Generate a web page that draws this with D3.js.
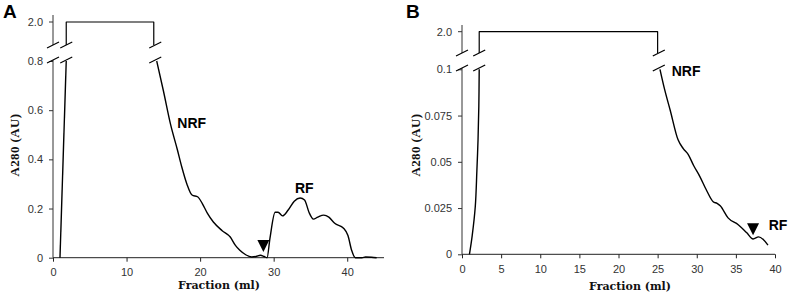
<!DOCTYPE html>
<html>
<head>
<meta charset="utf-8">
<script src="https://cdn.jsdelivr.net/npm/d3@7"></script>
<style>
  body { margin: 0; background: #fff; }
  .title { font-family: "DejaVu Serif", "Liberation Serif", serif; font-weight: bold; font-size: 11px; fill: #111; }
  .ytitle { font-family: "Liberation Serif", "Times New Roman", serif; font-weight: bold; font-size: 13px; fill: #111; letter-spacing: 0.4px; }
  .ann { font-family: "Liberation Sans", Arial, sans-serif; font-weight: bold; font-size: 14px; fill: #000; }
  .panel { font-family: "Liberation Sans", Arial, sans-serif; font-weight: bold; font-size: 19px; fill: #000; }
</style>
</head>
<body>
<div class="chart"></div>
<script>
// panel A : fraction (ml) vs A280
const riseA = [[0.95, 0], [1.8, 0.8]];
const plateauA = [1.8, 13.7];          // x range that is off the scale (2.0)
const fallA = [[14.1, 0.8], [15, 0.68], [16, 0.54], [16.9, 0.44], [17.5, 0.37], [18.2, 0.3], [18.9, 0.255],
  [19.7, 0.247], [20.3, 0.22], [21, 0.18], [21.8, 0.145], [23, 0.11], [24.1, 0.084], [24.8, 0.05],
  [25.4, 0.03], [26.2, 0.012], [27, 0.003], [27.6, 0.005], [28.2, 0.01], [28.7, 0.005], [29.1, 0],
  [29.5, 0.08], [30.2, 0.185], [30.6, 0.185], [31.2, 0.17], [32, 0.195], [32.8, 0.23], [33.6, 0.243],
  [34.2, 0.235], [34.8, 0.185], [35.4, 0.157], [36, 0.165], [36.8, 0.173], [37.5, 0.165], [38.3, 0.14],
  [39.5, 0.12], [40.1, 0.09], [40.6, 0.03], [41.1, 0], [42, 0], [42.5, 0.003], [43.3, 0.002], [44, 0]];
const xTicksA = [0, 10, 20, 30, 40];
const yTicksA = [0, 0.2, 0.4, 0.6, 0.8];
const yTickLabelsA = ["0", "0.2", "0.4", "0.6", "0.8"];

// panel B
const riseB = [[0.95, 0], [1.3, 0.01], [1.7, 0.026], [1.9, 0.045], [2.05, 0.062], [2.15, 0.08], [2.2, 0.1]];
const plateauB = [2.2, 25.0];
const fallB = [[25.3, 0.1], [25.9, 0.089], [26.6, 0.078], [27.6, 0.062], [28.3, 0.057], [28.9, 0.054],
  [29.6, 0.048], [30.4, 0.042], [31.2, 0.035], [32.1, 0.0284], [32.6, 0.0275], [33, 0.0262], [34, 0.0197],
  [35.3, 0.016], [36.4, 0.0116], [37.2, 0.0083], [37.9, 0.0094], [38.5, 0.008], [39.1, 0.005]];
const xTicksB = [0, 5, 10, 15, 20, 25, 30, 35, 40];
const yTicksB = [0, 0.025, 0.05, 0.075, 0.1];
const yTickLabelsB = ["0", "0.025", "0.05", "0.075", "0.1"];

const width = 791, height = 296;
const svg = d3.select(".chart").append("svg")
  .attr("width", width)
  .attr("height", height);

const drawPanel = (p) => {
  const x = d3.scaleLinear().domain(p.xDomain).range(p.xRange);
  const y = d3.scaleLinear().domain(p.yDomain).range(p.yRange);
  const g = svg.append("g");
  const x0 = p.xRange[0], y0 = p.yRange[0];

  const tickFont = sel => sel.selectAll(".tick text")
    .style("font-family", "Liberation Sans, Arial, sans-serif").style("font-size", "11px").style("fill", "#333");

  // x axis
  const xAxis = d3.axisBottom(x).tickValues(p.xTicks).tickSize(4).tickPadding(7).tickFormat(d3.format("d"));
  g.append("g").attr("transform", `translate(0,${y0})`).call(xAxis)
    .call(a => a.select(".domain").attr("d", `M${p.xRange[0]},0H${p.xRange[1]}`).attr("stroke", "#222"))
    .call(a => a.selectAll(".tick line").attr("stroke", "#222"))
    .call(tickFont);

  // lower y axis
  const yAxis = d3.axisLeft(y).tickValues(p.yTicks).tickSize(4).tickPadding(6)
    .tickFormat((d, i) => p.yTickLabels[i]);
  g.append("g").attr("transform", `translate(${x0},0)`).call(yAxis)
    .call(a => a.select(".domain").attr("d", `M0,${y0}V${p.breakLow}`).attr("stroke", "#333"))
    .call(a => a.selectAll(".tick line").attr("stroke", "#333"))
    .call(tickFont);

  // upper (broken) y axis with 2.0 tick
  g.append("line").attr("x1", x0).attr("x2", x0).attr("y1", p.breakHigh).attr("y2", p.axisTop)
    .attr("stroke", "#333");
  g.append("line").attr("x1", x0 - 4).attr("x2", x0).attr("y1", p.yTop).attr("y2", p.yTop).attr("stroke", "#333");
  g.append("text").attr("x", x0 - 10).attr("y", p.yTop).attr("dy", "0.35em")
    .attr("text-anchor", "end").style("font-family", "Liberation Sans, Arial, sans-serif")
    .style("font-size", "11px").style("fill", "#333").text(p.topLabel);

  const line = d3.line().x(d => x(d[0])).y(d => y(d[1])).curve(d3.curveMonotoneX);
  const lineStyle = sel => sel.attr("fill", "none").attr("stroke", "#000").attr("stroke-width", 1.4)
    .attr("stroke-linejoin", "round");

  g.append("path").attr("d", d3.line().x(d => x(d[0])).y(d => y(d[1])).curve(d3.curveCatmullRom)(p.rise)).call(lineStyle);
  g.append("path").attr("d", line(p.fall)).call(lineStyle);

  // plateau at 2.0 above the break
  const xa = x(p.plateau[0]), xb = x(p.plateau[1]);
  g.append("path")
    .attr("d", `M${xa},${p.breakHigh}V${p.yTop}H${xb}V${p.breakHigh}`)
    .call(lineStyle).attr("stroke-width", 1.2);

  // break slashes
  const slash = (cx, cy) => g.append("line")
    .attr("x1", cx - 6).attr("y1", cy + 3).attr("x2", cx + 6).attr("y2", cy - 3)
    .attr("stroke", "#000").attr("stroke-width", 1.2);
  [x0, xa, (xb + x(p.fall[0][0])) / 2].forEach(cx => {
    slash(cx, p.breakHigh);
    slash(cx, p.breakLow);
  });

  // arrow marker
  const ax = x(p.arrow[0]), ay = y(p.arrow[1]);
  g.append("path").attr("d", `M${ax - 6},${ay - 12}L${ax + 6},${ay - 12}L${ax},${ay}Z`).attr("fill", "#000");

  // annotations
  p.notes.forEach(n => {
    g.append("text").attr("class", "ann").attr("x", x(n.x)).attr("y", y(n.y)).text(n.text);
  });

  // titles
  g.append("text").attr("class", "title").attr("text-anchor", "middle")
    .attr("x", p.xTitle[0]).attr("y", p.xTitle[1]).text("Fraction (ml)");
  g.append("text").attr("class", "ytitle").attr("text-anchor", "middle")
    .attr("transform", `translate(${p.yTitle[0]},${p.yTitle[1]}) rotate(-90)`).attr("dy", "0.35em")
    .text("A280 (AU)");
  g.append("text").attr("class", "panel").attr("x", p.letterPos[0]).attr("y", p.letterPos[1]).text(p.letter);
};

drawPanel({
  letter: "A", letterPos: [3, 18],
  xDomain: [0, 45], xRange: [53, 384],
  yDomain: [0, 0.8], yRange: [257.7, 61],
  xTicks: xTicksA, yTicks: yTicksA, yTickLabels: yTickLabelsA,
  topLabel: "2.0", yTop: 22, axisTop: 15, breakHigh: 45, breakLow: 60,
  rise: riseA, plateau: plateauA, fall: fallA,
  arrow: [28.6, 0.023],
  notes: [{ x: 16.9, y: 0.527, text: "NRF" }, { x: 32.9, y: 0.263, text: "RF" }],
  xTitle: [219, 289], yTitle: [14, 145]
});

drawPanel({
  letter: "B", letterPos: [406, 18],
  xDomain: [0, 40], xRange: [462, 775],
  yDomain: [0, 0.1], yRange: [254.3, 69.3],
  xTicks: xTicksB, yTicks: yTicksB, yTickLabels: yTickLabelsB,
  topLabel: "2.0", yTop: 31.7, axisTop: 25, breakHigh: 53, breakLow: 68,
  rise: riseB, plateau: plateauB, fall: fallB,
  arrow: [37.2, 0.0103],
  notes: [{ x: 26.8, y: 0.0965, text: "NRF" }, { x: 39.2, y: 0.0133, text: "RF" }],
  xTitle: [630, 290], yTitle: [415, 145]
});
</script>
</body>
</html>
